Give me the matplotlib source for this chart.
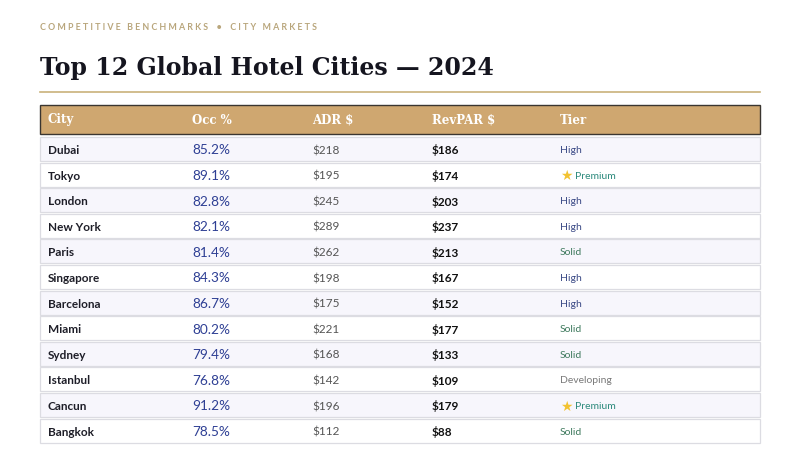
import matplotlib.pyplot as plt
from matplotlib.patches import Rectangle

# table data
cities = ["Dubai", "Tokyo", "London", "New York", "Paris", "Singapore",
          "Barcelona", "Miami", "Sydney", "Istanbul", "Cancun", "Bangkok"]
occ = [85.2, 89.1, 82.8, 82.1, 81.4, 84.3, 86.7, 80.2, 79.4, 76.8, 91.2, 78.5]
adr = [218, 195, 245, 289, 262, 198, 175, 221, 168, 142, 196, 112]
revpar = [186, 174, 203, 237, 213, 167, 152, 177, 133, 109, 179, 88]
tiers = ["High", "Premium", "High", "High", "Solid", "High",
         "High", "Solid", "Solid", "Developing", "Premium", "Solid"]
headers = ["City", "Occ %", "ADR $", "RevPAR $", "Tier"]

tier_colors = {"High": "#3b4a86", "Premium": "#2c8a7c",
               "Solid": "#3f7a5e", "Developing": "#7a7a7a"}

fig = plt.figure(figsize=(8, 4.5), dpi=100)
ax = fig.add_axes([0, 0, 1, 1])
ax.set_xlim(0, 800)
ax.set_ylim(450, 0)
ax.axis("off")

sans = ["Lato", "DejaVu Sans"]
serif = ["DejaVu Serif"]

# kicker + title
ax.text(40, 27, "C O M P E T I T I V E   B E N C H M A R K S    •    C I T Y   M A R K E T S",
        fontsize=6.4, color="#b9a67c", fontweight="bold", family=sans, va="center")
ax.text(40, 68, "Top 12 Global Hotel Cities — 2024", fontsize=17, fontweight="bold",
        color="#15151f", family=serif, va="center")
ax.plot([40, 760], [92, 92], color="#c9b27a", lw=1.2)

col_x = [48, 192, 312, 432, 560]

# header band
ax.add_patch(Rectangle((40, 105), 720, 29, facecolor="#cfa770", edgecolor="#3a3530", lw=1.0))
for x, h in zip(col_x, headers):
    ax.text(x, 120, h, fontsize=8.5, fontweight="bold", color="white",
            family=serif, va="center")

# body rows
top0 = 137
pitch = 25.6
for i in range(len(cities)):
    y0 = top0 + i * pitch
    fc = "#f7f6fc" if i % 2 == 0 else "white"
    ax.add_patch(Rectangle((40, y0), 720, pitch - 1.6, facecolor=fc,
                           edgecolor="#dcdce2", lw=0.9))
    yc = y0 + (pitch - 1.6) / 2 + 1.5
    ax.text(col_x[0], yc, cities[i], fontsize=8.5, fontweight="bold",
            color="#1e1e28", family=sans, va="center")
    ax.text(col_x[1], yc, f"{occ[i]:.1f}%", fontsize=9.8, color="#2e3f94",
            family=sans, va="center")
    ax.text(col_x[2], yc, f"${adr[i]}", fontsize=8.5, color="#555555",
            family=sans, va="center")
    ax.text(col_x[3], yc, f"${revpar[i]}", fontsize=8.5, fontweight="bold",
            color="#111111", family=sans, va="center")
    t = tiers[i]
    if t == "Premium":
        ax.text(col_x[4], yc, "★", fontsize=10, color="#f2c230", family=["DejaVu Sans"],
                va="center")
        ax.text(col_x[4] + 15, yc, t, fontsize=7.5, color=tier_colors[t],
                family=sans, va="center")
    else:
        ax.text(col_x[4], yc, t, fontsize=7.5, color=tier_colors[t],
                family=sans, va="center")

fig.savefig("out.png", dpi=100, facecolor="white")
